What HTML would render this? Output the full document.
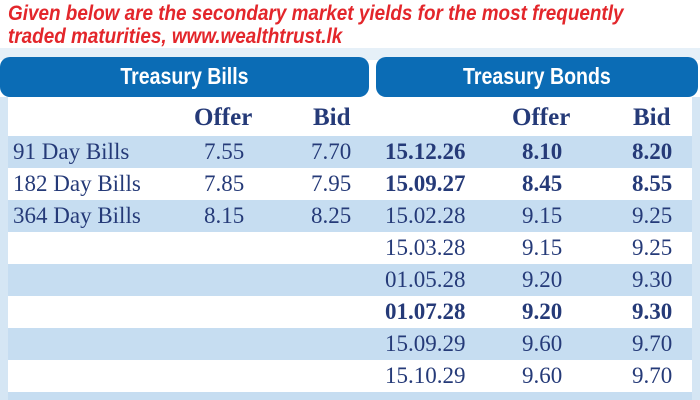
<!DOCTYPE html>
<html style="overflow:hidden;width:700px;height:400px"><head><style>
html,body{margin:0;padding:0}
body{width:700px;height:400px;overflow:hidden;background:#fff;position:relative;font-family:"Liberation Serif",serif;}
.t{position:absolute;left:8px;color:#e3262b;font:italic bold 21px "Liberation Sans",sans-serif;transform:scaleX(0.9);transform-origin:left;white-space:nowrap}
.hb{position:absolute;top:57px;height:40px;background:#0b6cb5;border-radius:10px;color:#fff;font:bold 23px "Liberation Sans",sans-serif;text-align:center;line-height:38px}
.hb span{display:inline-block;transform:scaleX(0.85)}
.strip{position:absolute;background:#d5e6f4}
.row{position:absolute;left:8px;width:684px;height:32px}
.b{background:#c6ddf1}
.c{position:absolute;color:#253a78;font-size:23px;line-height:32px;white-space:nowrap}
.bold{font-weight:bold}
</style></head><body>
<div class="t" style="top:2px">Given below are the secondary market yields for the most frequently</div>
<div class="t" style="top:25px">traded maturities, www.wealthtrust.lk</div>
<div class="strip" style="left:0;top:48px;width:700px;height:12px;background:#e6f0f8"></div>
<div class="hb" style="left:0;width:369px"><span>Treasury Bills</span></div>
<div class="hb" style="left:376px;width:322px"><span>Treasury Bonds</span></div>
<div class="strip" style="left:0;top:97px;width:8px;height:303px"></div>
<div class="strip" style="left:692px;top:97px;width:8px;height:303px"></div>
<div class="row b" style="top:136px"></div>
<div class="row" style="top:168px"></div>
<div class="row b" style="top:200px"></div>
<div class="row" style="top:232px"></div>
<div class="row b" style="top:264px"></div>
<div class="row" style="top:296px"></div>
<div class="row b" style="top:328px"></div>
<div class="row" style="top:360px"></div>
<div class="row b" style="top:392px;height:8px"></div>
<div class="c bold" style="left:194px;top:102px;font-size:25px">Offer</div>
<div class="c bold" style="left:313px;top:102px;font-size:25px">Bid</div>
<div class="c bold" style="left:512px;top:102px;font-size:25px">Offer</div>
<div class="c bold" style="left:633px;top:102px;font-size:25px">Bid</div>

<div class="c" style="left:13px;top:136px">91 Day Bills</div><div class="c" style="left:204px;top:136px">7.55</div><div class="c" style="left:311px;top:136px">7.70</div>
<div class="c" style="left:13px;top:168px">182 Day Bills</div><div class="c" style="left:204px;top:168px">7.85</div><div class="c" style="left:311px;top:168px">7.95</div>
<div class="c" style="left:13px;top:200px">364 Day Bills</div><div class="c" style="left:204px;top:200px">8.15</div><div class="c" style="left:311px;top:200px">8.25</div>

<div class="c bold" style="left:385px;top:136px">15.12.26</div><div class="c bold" style="left:522px;top:136px">8.10</div><div class="c bold" style="left:632px;top:136px">8.20</div>
<div class="c bold" style="left:385px;top:168px">15.09.27</div><div class="c bold" style="left:522px;top:168px">8.45</div><div class="c bold" style="left:632px;top:168px">8.55</div>
<div class="c" style="left:385px;top:200px">15.02.28</div><div class="c" style="left:522px;top:200px">9.15</div><div class="c" style="left:632px;top:200px">9.25</div>
<div class="c" style="left:385px;top:232px">15.03.28</div><div class="c" style="left:522px;top:232px">9.15</div><div class="c" style="left:632px;top:232px">9.25</div>
<div class="c" style="left:385px;top:264px">01.05.28</div><div class="c" style="left:522px;top:264px">9.20</div><div class="c" style="left:632px;top:264px">9.30</div>
<div class="c bold" style="left:385px;top:296px">01.07.28</div><div class="c bold" style="left:522px;top:296px">9.20</div><div class="c bold" style="left:632px;top:296px">9.30</div>
<div class="c" style="left:385px;top:328px">15.09.29</div><div class="c" style="left:522px;top:328px">9.60</div><div class="c" style="left:632px;top:328px">9.70</div>
<div class="c" style="left:385px;top:360px">15.10.29</div><div class="c" style="left:522px;top:360px">9.60</div><div class="c" style="left:632px;top:360px">9.70</div>
</body></html>
